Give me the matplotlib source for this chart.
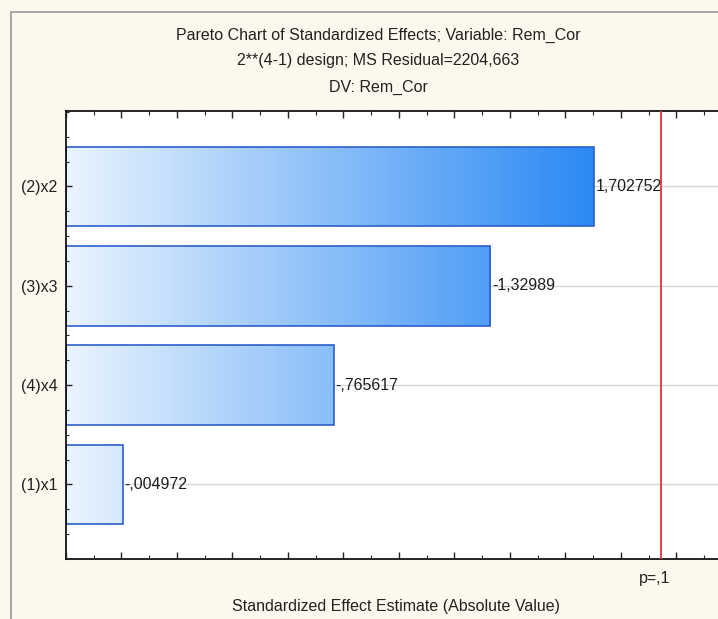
import matplotlib
matplotlib.use('Agg')
import matplotlib.pyplot as plt
import numpy as np
from matplotlib.colors import LinearSegmentedColormap
from matplotlib.patches import Rectangle

plt.rcParams['font.family'] = ['Liberation Sans', 'DejaVu Sans']

# data (top to bottom)
labels = ['(2)x2', '(3)x3', '(4)x4', '(1)x1']
effects = [1.702752, -1.32989, -0.765617, -0.004972]
value_text = ['1,702752', '-1,32989', '-,765617', '-,004972']
p_crit = 1.943
title_lines = ['Pareto Chart of Standardized Effects; Variable: Rem_Cor',
               '2**(4-1) design; MS Residual=2204,663',
               'DV: Rem_Cor']

xmin, xmax = -0.2, 2.15
bar_h = 0.8

fig = plt.figure(figsize=(7.18, 6.19), dpi=100, facecolor='#fdf8ee')
# outer frame of the original window
fig.patches.append(Rectangle((11/718, -0.01), 1.0, 1 - 12/619 + 0.01, transform=fig.transFigure,
                             fill=False, edgecolor='#9a9a9a', lw=1.2, zorder=0))
ax = fig.add_axes([66/718, 1 - 559/619, 1 - 66/718, (559 - 111)/619])
ax.set_facecolor('white')
ax.set_axisbelow(False)

n = len(labels)
ypos = np.arange(n)[::-1]
absvals = np.abs(effects)

cmap = LinearSegmentedColormap.from_list('blu', ['#eaf4fe', '#2b89f4'])
for y in ypos:
    ax.axhline(y, color='#d6d6d6', lw=1, zorder=0.5)

bars = ax.barh(ypos, absvals - xmin, left=xmin, height=bar_h, color='none',
               edgecolor='#2c5fc9', lw=1.2, zorder=2)
grad = np.linspace(0, 1, 256).reshape(1, -1)
for b, y in zip(bars, ypos):
    im = ax.imshow(grad, cmap=cmap, aspect='auto', zorder=1.8,
                   extent=[xmin, max(absvals), y - bar_h/2, y + bar_h/2])
    im.set_clip_path(b)

for y, v, t in zip(ypos, absvals, value_text):
    ax.text(v + 0.005, y, t, va='center', ha='left', fontsize=11.5, color='#1e1e1e', zorder=4)

ax.axvline(p_crit, color='#e0404a', lw=1.4, zorder=5)

ax.set_xticks(np.arange(-0.2, 2.21, 0.2))
ax.set_xticks(np.arange(-0.1, 2.21, 0.2), minor=True)
ax.set_xticklabels([])
ax.set_yticks(ypos)
ax.set_yticklabels(labels, fontsize=11.5, color='#222222')
ax.set_yticks(np.arange(-0.75, n, 0.25), minor=True)
ax.set_xlim(xmin, xmax)
ax.set_ylim(-0.75, n - 1 + 0.76)
ax.tick_params(axis='both', which='both', direction='in', top=True, bottom=True, colors='#222222')
ax.tick_params(axis='x', which='major', length=5, width=1)
ax.tick_params(axis='x', which='minor', length=3, width=0.8)
ax.tick_params(axis='y', which='major', length=4, width=1, pad=6)
ax.tick_params(axis='y', which='minor', length=2.5, width=0.8)
ax.spines['right'].set_visible(False)
for s in ['left', 'bottom', 'top']:
    ax.spines[s].set_linewidth(1.2)

fig.text(655/718, 1 - 578/619, 'p=,1', ha='center', va='center',
         fontsize=11.5, color='#222222')
fig.text(396/718, 1 - 606/619, 'Standardized Effect Estimate (Absolute Value)', ha='center',
         va='center', fontsize=11.5, color='#222222')
for i, line in enumerate(title_lines):
    fig.text(378/718, 1 - (35 + 26*i)/619, line, ha='center', va='center',
             fontsize=11.5, color='#222222')

plt.savefig('out.png', dpi=100, facecolor=fig.get_facecolor())
